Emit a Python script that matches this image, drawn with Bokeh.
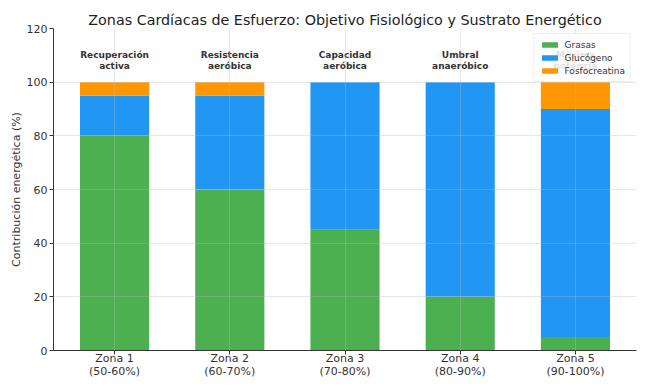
from bokeh.plotting import figure
from bokeh.models import ColumnDataSource, FixedTicker, Legend
from bokeh.core.properties import value
from bokeh.embed import file_html
from bokeh.resources import INLINE

zonas = ["Zona 1\n(50-60%)", "Zona 2\n(60-70%)", "Zona 3\n(70-80%)", "Zona 4\n(80-90%)", "Zona 5\n(90-100%)"]
objetivos = ["Recuperación\nactiva", "Resistencia\naeróbica", "Capacidad\naeróbica", "Umbral\nanaeróbico", "Máxima\npotencia"]
grasas = [80, 60, 45, 20, 5]
glucogeno = [15, 35, 55, 80, 85]
fosfocreatina = [5, 5, 0, 0, 10]
series = ["Grasas", "Glucógeno", "Fosfocreatina"]
colores = ["#4CAF50", "#2196F3", "#FF9800"]
y_ticks = [0, 20, 40, 60, 80, 100, 120]

FONT = "DejaVu Sans"
xs = list(range(len(zonas)))
source = ColumnDataSource(dict(x=xs, Grasas=grasas, Glucógeno=glucogeno, Fosfocreatina=fosfocreatina))

p = figure(width=662, height=390, x_range=(-0.53, 4.53), y_range=(0, 120),
           output_backend="svg", toolbar_location=None,
           title="Zonas Cardíacas de Esfuerzo: Objetivo Fisiológico y Sustrato Energético",
           min_border_left=53, min_border_right=26, min_border_top=28, min_border_bottom=40)

renderers = p.vbar_stack(series, x="x", width=0.6, color=colores, source=source, line_width=0)

p.text(x=xs, y=[104] * len(xs), text=objetivos, text_align="center", text_baseline="bottom",
       text_font=value(FONT), text_font_style="bold", text_font_size="9px", text_color="#333333",
       text_line_height=1.15)

legend = Legend(items=[(s, [r]) for s, r in zip(series, renderers)], location="top_right",
                margin=5, padding=5, spacing=2, label_text_font=FONT, label_text_font_size="9px",
                label_height=11, glyph_height=7, glyph_width=20, label_standoff=5,
                border_line_color="#dddddd", background_fill_alpha=0.85,
                label_text_color="#333333")
p.add_layout(legend, "center")

p.title.align = "center"
p.title.text_font = FONT
p.title.text_font_size = "14.3px"
p.title.text_font_style = "normal"
p.title.text_color = "#222222"
p.title.standoff = 2

p.outline_line_color = None
p.xaxis.ticker = FixedTicker(ticks=xs)
p.xaxis.major_label_overrides = {i: z for i, z in enumerate(zonas)}
p.yaxis.ticker = FixedTicker(ticks=y_ticks)
for ax in (p.xaxis, p.yaxis):
    ax.axis_line_color = "#333333"
    ax.major_tick_line_color = "#333333"
    ax.major_tick_out = 4
    ax.major_tick_in = 0
    ax.minor_tick_line_color = None
    ax.major_label_text_font = FONT
    ax.major_label_text_font_size = "11px"
    ax.major_label_text_color = "#333333"
    ax.major_label_standoff = 2
p.xaxis.major_label_standoff = -3
p.xaxis.major_label_text_line_height = 1.0
p.yaxis.axis_label = "Contribución energética (%)"
p.yaxis.axis_label_text_font = FONT
p.yaxis.axis_label_text_font_size = "11px"
p.yaxis.axis_label_text_font_style = "normal"
p.yaxis.axis_label_text_color = "#333333"
p.yaxis.axis_label_standoff = 1

p.xgrid.ticker = FixedTicker(ticks=xs)
p.ygrid.ticker = FixedTicker(ticks=y_ticks)
for g in (p.xgrid, p.ygrid):
    g.grid_line_color = "#bbbbbb"
    g.grid_line_alpha = 0.35
    g.level = "overlay"

open("out.html", "w").write(file_html(p, INLINE))
